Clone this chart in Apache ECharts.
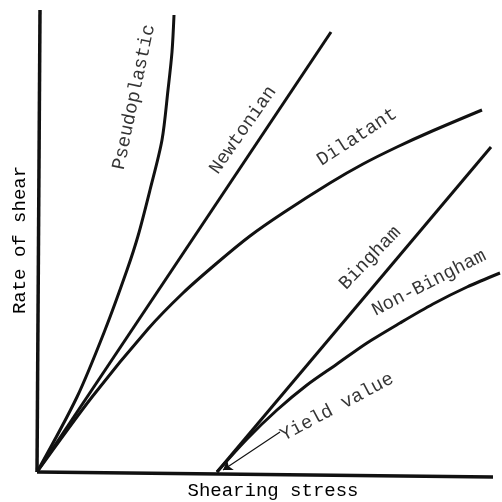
<!DOCTYPE html>
<html>
<head>
<meta charset="utf-8">
<script src="https://cdn.jsdelivr.net/npm/echarts@6/dist/echarts.min.js"></script>
<style>
  html, body { margin: 0; padding: 0; background: #fff; }
  #chart { width: 502px; height: 502px; }
</style>
</head>
<body>
<div id="chart"></div>
<script>
// curve points: [shearing stress, rate of shear]
const pseudoplastic = [[0, 0], [40, 75], [68, 142], [90, 202], [101, 236], [113, 282], [125, 332], [131, 382], [135, 420], [137, 457]]
const newtonian = [[0, 0], [294, 440]]
const dilatant = [[0, 0], [55, 75], [111, 143], [146, 179], [180, 209], [213, 236], [246, 259],
  [293, 289], [326, 308], [360, 325], [393, 340], [445, 362]]
const bingham = [[180, 0], [454, 325]]
const nonBingham = [[180, 0], [210, 33], [240, 62], [270, 87], [300, 108], [330, 129], [363, 149], [396, 168], [430, 185], [463, 199]]

// axis lines (the scan is a little tilted)
const yAxisLine = [[3, 462], [0, 0]]
const xAxisLine = [[0, 0], [456, -5]]

// curve labels: [x, y, text, angle]
const curveLabels = [
  [97, 375, 'Pseudoplastic', 78],
  [206, 342, 'Newtonian', 55],
  [320, 335, 'Dilatant', 33],
  [333, 214, 'Bingham', 46],
  [392, 189, 'Non-Bingham', 27],
  [300, 65, 'Yield value', 28],
]
// leader line from "Yield value" to the yield point
const yieldArrow = [[243, 40], [186, 2]]

const FONT = '"Liberation Mono", "Courier New", monospace'
const chart = echarts.init(document.getElementById('chart'))

const curve = (name, data) => ({
  name,
  type: 'line',
  data,
  smooth: data.length > 2 ? 0.3 : false,
  symbol: 'none',
  clip: false,
  lineStyle: { color: '#111', width: 3 },
})

const titleStyle = text => ({
  text,
  fontFamily: FONT,
  fontSize: 19,
  fill: '#000',
  align: 'center',
  verticalAlign: 'middle',
})

const option = {
  backgroundColor: '#fff',
  animation: false,
  grid: { left: 37, right: 0, top: 10, bottom: 20 },
  xAxis: {
    type: 'value', min: 0, max: 465,
    axisLine: { show: false }, axisTick: { show: false }, axisLabel: { show: false }, splitLine: { show: false },
  },
  yAxis: {
    type: 'value', min: -10, max: 462,
    axisLine: { show: false }, axisTick: { show: false }, axisLabel: { show: false }, splitLine: { show: false },
  },
  graphic: [
    { type: 'text', x: 273, y: 491, style: titleStyle('Shearing stress') },
    { type: 'text', x: 20, y: 240, rotation: Math.PI / 2, style: titleStyle('Rate of shear') },
  ],
  series: [
    { type: 'line', data: yAxisLine, symbol: 'none', clip: false, lineStyle: { color: '#111', width: 3.5 } },
    { type: 'line', data: xAxisLine, symbol: 'none', clip: false, lineStyle: { color: '#111', width: 3.5 } },
    curve('Pseudoplastic', pseudoplastic),
    curve('Newtonian', newtonian),
    curve('Dilatant', dilatant),
    curve('Bingham', bingham),
    curve('Non-Bingham', nonBingham),
    {
      type: 'scatter',
      symbolSize: 0,
      data: curveLabels.map(d => ({ value: [d[0], d[1]], name: d[2], label: { rotate: d[3] } })),
      label: {
        show: true,
        position: 'inside',
        formatter: p => p.name,
        fontFamily: FONT,
        fontSize: 19,
        color: '#000',
        align: 'center',
        verticalAlign: 'middle',
      },
      markLine: {
        silent: true,
        symbol: ['none', 'arrow'],
        symbolSize: 9,
        label: { show: false },
        lineStyle: { color: '#111', width: 1.2, type: 'solid' },
        data: [[{ coord: yieldArrow[0] }, { coord: yieldArrow[1] }]],
      },
    },
  ],
}
chart.setOption(option)
</script>
</body>
</html>
